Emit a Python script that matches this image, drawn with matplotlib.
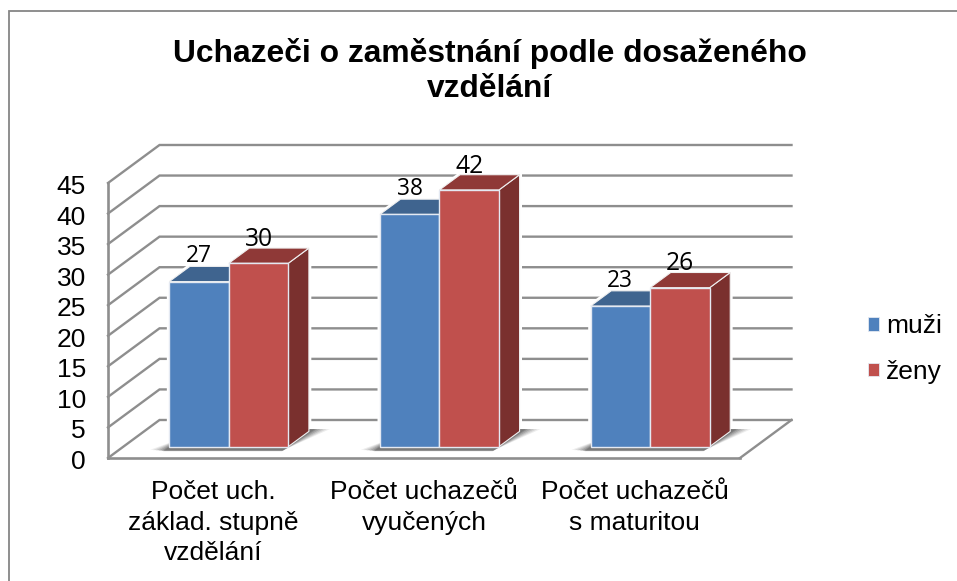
# Uchazeci o zamestnani - 3D look column chart
import matplotlib
matplotlib.use("Agg")
import matplotlib.pyplot as plt
from matplotlib.lines import Line2D
from matplotlib.patches import Polygon, Rectangle
from matplotlib.transforms import ScaledTranslation

plt.rcParams['font.family'] = ['Liberation Sans', 'DejaVu Sans']

# data
categories = ["Počet uch.\nzáklad. stupně\nvzdělání", "Počet uchazečů\nvyučených", "Počet uchazečů\ns maturitou"]
muzi = [27, 38, 23]
zeny = [30, 42, 26]
series_names = ["muži", "ženy"]
yticks = [0, 5, 10, 15, 20, 25, 30, 35, 40, 45]
title = "Uchazeči o zaměstnání podle dosaženého\nvzdělání"

# colours
front_col = ['#4f81bd', '#c0504d']
top_col = ['#3f648f', '#8f3937']
side_col = ['#3a5a80', '#7a302e']
grid_col = '#8e8e8e'

# depth of the floor, in data units
DX = 0.2445
DY = 6.22
bar_w = 0.2825
d_front = 0.3
d_back = 0.7

W, H = 957, 581
fig = plt.figure(figsize=(W / 100, H / 100), dpi=100)
fig.patch.set_facecolor('white')
# outer frame: only left and top edges are in the picture
fig.add_artist(Line2D([8.5 / W, 8.5 / W, 1], [0, 1 - 11 / H, 1 - 11 / H], transform=fig.transFigure,
                      color='#868686', lw=1.3, solid_joinstyle='miter'))

ax = fig.add_axes([108 / W, 1 - 458 / H, 632 / W, 275 / H])
ax.set_xlim(0, 3)
ax.set_ylim(0, 45)
ax.patch.set_alpha(0)


def proj(x, v, d):
    return (x + d * DX, v + d * DY)


def poly(pts, **kw):
    p = Polygon(pts, closed=True, clip_on=False, **kw)
    ax.add_patch(p)
    return p


# walls and floor lines
for v in yticks:
    xs, ys = zip(proj(0, v, 0), proj(0, v, 1), proj(3, v, 1))
    ax.plot(xs, ys, color=grid_col, lw=1.7, clip_on=False, zorder=1, solid_joinstyle='miter')
xs, ys = zip(proj(3, 0, 0), proj(3, 0, 1))
ax.plot(xs, ys, color=grid_col, lw=1.7, clip_on=False, zorder=1)

for s in ['top', 'right']:
    ax.spines[s].set_visible(False)
for s in ['left', 'bottom']:
    ax.spines[s].set_color(grid_col)
    ax.spines[s].set_linewidth(1.9)

# bars
for i in range(len(categories)):
    x0 = i + 0.5 - bar_w
    for j, vals in enumerate([muzi, zeny]):
        v = vals[i]
        xl = x0 + j * bar_w
        xr = xl + bar_w
        # white halo behind the column cuts the grid lines
        poly([proj(xl, 0, d_front), proj(xl, v, d_front), proj(xl, v, d_back), proj(xr, v, d_back),
              proj(xr, 0, d_back), proj(xr, 0, d_front)],
             facecolor='none', edgecolor='white', lw=3.5, zorder=2)
        poly([proj(xr, 0, d_front), proj(xr, v, d_front), proj(xr, v, d_back), proj(xr, 0, d_back)],
             facecolor=side_col[j], edgecolor='#f0f0f0', lw=0.8, zorder=3 + j)
        poly([proj(xl, v, d_front), proj(xr, v, d_front), proj(xr, v, d_back), proj(xl, v, d_back)],
             facecolor=top_col[j], edgecolor='#f0f0f0', lw=0.8, zorder=3 + j)
        poly([proj(xl, 0, d_front), proj(xr, 0, d_front), proj(xr, v, d_front), proj(xl, v, d_front)],
             facecolor=front_col[j], edgecolor='#e4e9f2', lw=1.0, zorder=3 + j)
        # value label
        px, py = proj(xl + bar_w / 2, v, d_front)
        ax.annotate(str(v), (px, py), xytext=(0, 14 if j == 0 else 12.5), textcoords='offset points',
                    ha='center', va='baseline', annotation_clip=False, color='black', zorder=8,
                    family=['Open Sans', 'DejaVu Sans'], fontsize=16.4 if j == 0 else 17.7)
    # soft shadow on the floor, above the halo
    for grow, a in [(0.07, 0.10), (0.055, 0.14), (0.04, 0.18), (0.025, 0.24), (0.01, 0.30), (0.0, 0.36)]:
        poly([proj(x0 - grow, 0, d_front - 0.12 + grow * 0.5), proj(x0 + 2 * bar_w, 0, d_front - 0.12 + grow * 0.5),
              proj(x0 + 2 * bar_w + grow + 0.015, 0, d_back + 0.06), proj(x0 + 2 * bar_w - 0.02, 0, d_back + 0.06),
              proj(x0, 0, d_back - 0.2)],
             facecolor='#555555', alpha=a, edgecolor='none', zorder=2.5)

# axes text
ax.set_yticks(yticks)
ax.tick_params(axis='y', length=0, labelsize=19, pad=16)
for lab in ax.get_yticklabels():
    lab.set_transform(lab.get_transform() + ScaledTranslation(0, -1.5 / 100, fig.dpi_scale_trans))
ax.set_xticks([i + 0.5 for i in range(len(categories))])
ax.set_xticklabels(categories, linespacing=1.34)
ax.tick_params(axis='x', length=0, labelsize=19, pad=16)

fig.text(489.5 / W, 1 - 71 / H, title, ha='center', va='center', fontsize=22.9, fontweight='bold', linespacing=1.2)

# legend
handles = [Rectangle((0, 0), 1, 1, facecolor=c, edgecolor='#e4e9f2', lw=0.6) for c in front_col]
fig.legend(handles, series_names, loc='center left', bbox_to_anchor=(868 / W, 1 - 349 / H), frameon=False,
           fontsize=19, handlelength=0.42, handleheight=0.42, handletextpad=0.26, labelspacing=0.82,
           borderpad=0, borderaxespad=0)

fig.savefig("out.png", dpi=100)
